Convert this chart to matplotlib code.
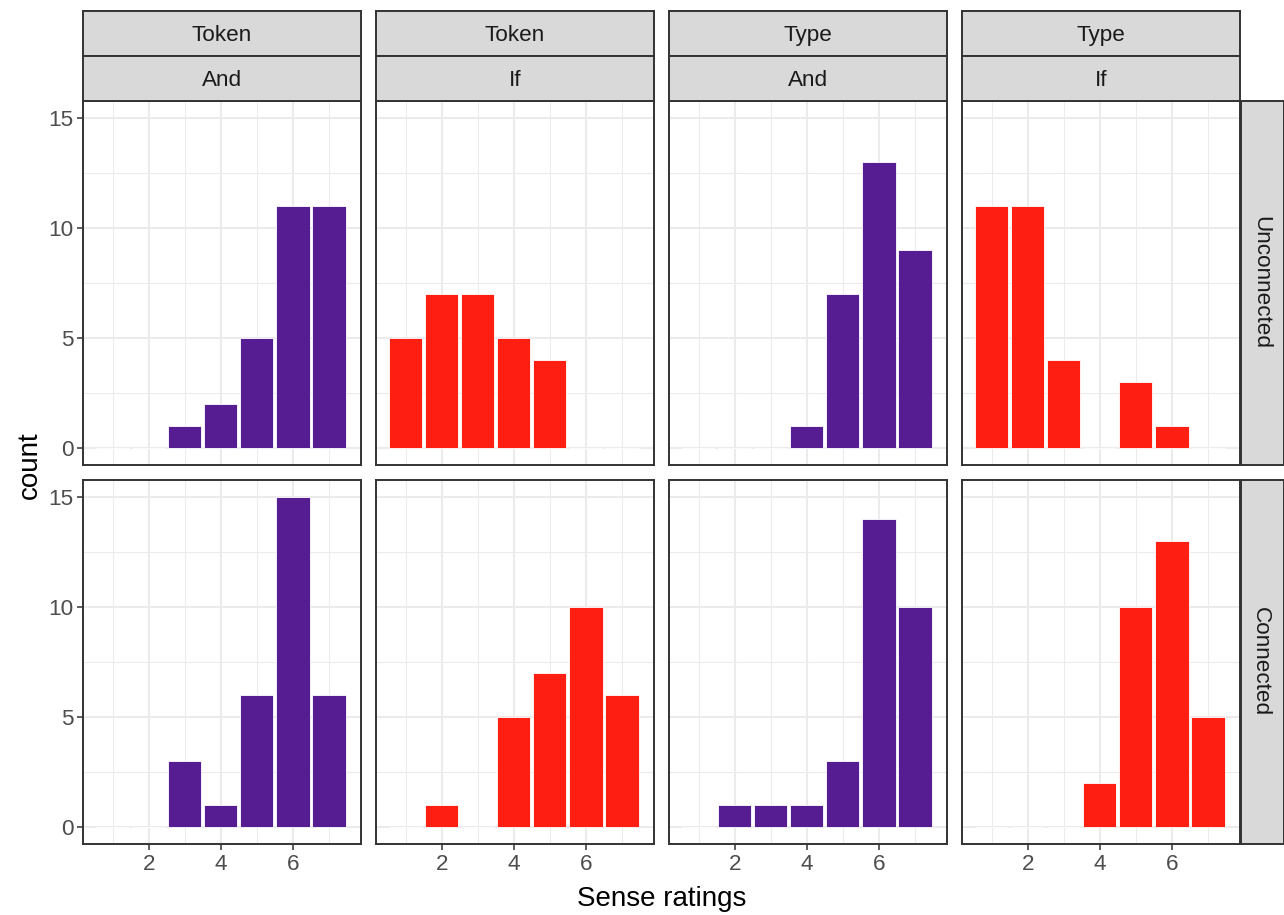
import matplotlib
matplotlib.use("Agg")
import matplotlib.pyplot as plt
from matplotlib.ticker import MultipleLocator

plt.rcParams['font.family'] = ['Liberation Sans', 'DejaVu Sans']

ratings = [1, 2, 3, 4, 5, 6, 7]
col_kind = ["Token", "Token", "Type", "Type"]
col_conn = ["And", "If", "And", "If"]
row_labels = ["Unconnected", "Connected"]

# counts per rating 1..7
token_and_unconnected = [0, 0, 1, 2, 5, 11, 11]
token_if_unconnected = [5, 7, 7, 5, 4, 0, 0]
type_and_unconnected = [0, 0, 0, 1, 7, 13, 9]
type_if_unconnected = [11, 11, 4, 0, 3, 1, 0]
token_and_connected = [0, 0, 3, 1, 6, 15, 6]
token_if_connected = [0, 1, 0, 5, 7, 10, 6]
type_and_connected = [0, 1, 1, 1, 3, 14, 10]
type_if_connected = [0, 0, 0, 2, 10, 13, 5]

counts = [
    [token_and_unconnected, token_if_unconnected, type_and_unconnected, type_if_unconnected],
    [token_and_connected, token_if_connected, type_and_connected, type_if_connected],
]
colors = {"And": "#551D91", "If": "#FF1F12"}

W, H = 1284, 915
fig = plt.figure(figsize=(W / 100, H / 100), dpi=100)

col_left = [83, 376, 669, 962]
col_w = 278
row_top = [101, 480]
row_h = 364
strip_h = 45
rstrip_x = 1241
rstrip_w = 43
border = "#333333"
lw_border = 1.4
fs_small = 16.2
fs_title = 20


def fx(px):
    return px / W


def fy(py):
    return 1 - py / H


for r in range(2):
    for c in range(4):
        ax = fig.add_axes([fx(col_left[c]), fy(row_top[r] + row_h), fx(col_w), row_h / H])
        vals = counts[r][c]
        ax.bar(ratings, vals, width=0.92, color=colors[col_conn[c]],
               edgecolor="white", linewidth=0.6, zorder=3)
        ax.set_xlim(0.17, 7.89)
        ax.set_ylim(-0.75, 15.75)
        ax.xaxis.set_major_locator(MultipleLocator(2))
        ax.xaxis.set_minor_locator(MultipleLocator(1))
        ax.yaxis.set_major_locator(MultipleLocator(5))
        ax.yaxis.set_minor_locator(MultipleLocator(2.5))
        ax.set_xticks([2, 4, 6])
        ax.set_yticks([0, 5, 10, 15])
        ax.grid(which="major", color="#EBEBEB", linewidth=1.5, zorder=0)
        ax.grid(which="minor", color="#EBEBEB", linewidth=0.75, zorder=0)
        ax.set_axisbelow(True)
        for s in ax.spines.values():
            s.set_color(border)
            s.set_linewidth(lw_border)
            s.set_zorder(5)
        ax.tick_params(which="minor", length=0)
        ax.tick_params(which="major", length=4.5, width=1.1, color=border,
                       labelsize=fs_small, labelcolor="#4D4D4D", pad=2.5)
        if r == 0:
            ax.tick_params(axis="x", which="major", length=0, labelbottom=False)
        if c != 0:
            ax.tick_params(axis="y", which="major", length=0, labelleft=False)
        ax.set_facecolor("white")

# top strips
for c in range(4):
    for k, label in enumerate([col_kind[c], col_conn[c]]):
        y0 = 11 + k * strip_h
        sax = fig.add_axes([fx(col_left[c]), fy(y0 + strip_h), fx(col_w), strip_h / H])
        sax.set_facecolor("#D9D9D9")
        sax.set_xticks([])
        sax.set_yticks([])
        for s in sax.spines.values():
            s.set_color(border)
            s.set_linewidth(lw_border)
        sax.text(0.5, 0.45, label, ha="center", va="center", fontsize=fs_small,
                 color="#1A1A1A", transform=sax.transAxes)

# right strips
for r in range(2):
    sax = fig.add_axes([fx(rstrip_x), fy(row_top[r] + row_h), fx(rstrip_w), row_h / H])
    sax.set_facecolor("#D9D9D9")
    sax.set_xticks([])
    sax.set_yticks([])
    for s in sax.spines.values():
        s.set_color(border)
        s.set_linewidth(lw_border)
    sax.text(0.45, 0.5, row_labels[r], ha="center", va="center", fontsize=fs_small,
             color="#1A1A1A", rotation=-90, transform=sax.transAxes)

fig.text(fx(30), fy(465), "count", rotation=90, ha="center", va="center", fontsize=fs_title, color="black")
fig.text(fx(662), fy(899), "Sense ratings", ha="center", va="center", fontsize=fs_title, color="black")

fig.savefig("out.png", dpi=100, facecolor="white")
